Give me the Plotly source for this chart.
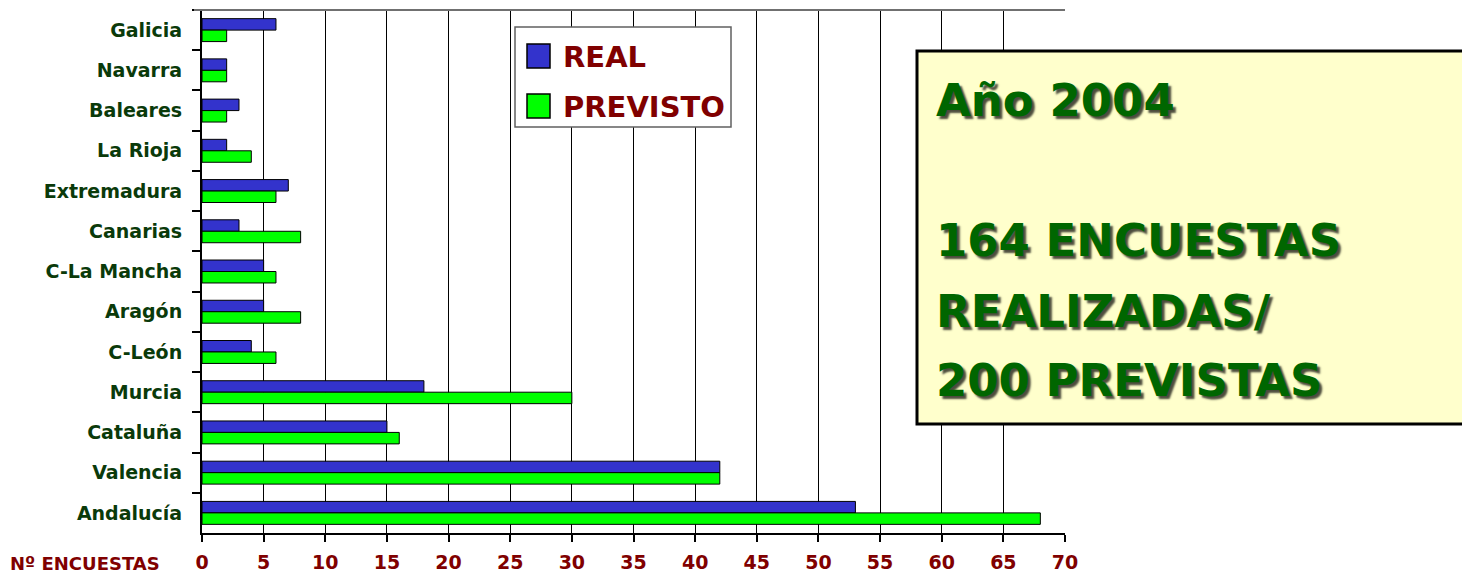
import plotly.graph_objects as go

regions = ["Galicia", "Navarra", "Baleares", "La Rioja", "Extremadura", "Canarias",
           "C-La Mancha", "Aragón", "C-León", "Murcia", "Cataluña", "Valencia", "Andalucía"]
real = [6, 2, 3, 2, 7, 3, 5, 5, 4, 18, 15, 42, 53]
previsto = [2, 2, 2, 4, 6, 8, 6, 8, 6, 30, 16, 42, 68]
x_ticks = list(range(0, 75, 5))
series_names = ["REAL", "PREVISTO"]
series_colors = ["#3333CC", "#00FF00"]
box_lines = ["Año 2004", "164 ENCUESTAS", "REALIZADAS/", "200 PREVISTAS"]
x_title = "Nº ENCUESTAS"

W, H = 1470, 575
OFF = 8  # page body margin
# plot area in page pixels
L, R, T, B = 202, 1065, 10, 533
FONT = "DejaVu Sans"


def px(x):
    return (x - L) / (R - L)


def py(y):
    return (B - y) / (B - T)


fig = go.Figure()
for name, vals, col in zip(series_names, [real, previsto], series_colors):
    fig.add_trace(go.Bar(
        y=regions, x=vals, name=name, orientation="h",
        marker=dict(color=col, line=dict(color="#000000", width=1)),
        showlegend=False,
    ))

shapes = []
annotations = []

# top border line
shapes.append(dict(type="line", xref="paper", yref="paper", x0=px(194), x1=px(1065),
                   y0=py(10), y1=py(10), line=dict(color="#707070", width=2)))

# manual legend
shapes.append(dict(type="rect", xref="paper", yref="paper", x0=px(515), x1=px(731),
                   y0=py(27), y1=py(127), fillcolor="white",
                   line=dict(color="#606060", width=1.5), layer="above"))
for i, (name, col) in enumerate(zip(series_names, series_colors)):
    yc = 56 + i * 50
    shapes.append(dict(type="rect", xref="paper", yref="paper", x0=px(527), x1=px(550),
                       y0=py(yc - 12), y1=py(yc + 12), fillcolor=col,
                       line=dict(color="#000000", width=1.5), layer="above"))
    annotations.append(dict(xref="paper", yref="paper", x=px(561), y=py(yc + 1),
                            xanchor="left", yanchor="middle", showarrow=False,
                            text="<b>%s</b>" % name,
                            font=dict(family=FONT, size=29, color="#800000")))

# info box
shapes.append(dict(type="rect", xref="paper", yref="paper", x0=px(917), x1=px(1490),
                   y0=py(424), y1=py(51), fillcolor="#FFFFCC",
                   line=dict(color="#000000", width=3), layer="above"))
line_y = [100, 241, 311, 381]
for txt, yc in zip(box_lines, line_y):
    annotations.append(dict(xref="paper", yref="paper", x=px(934), y=py(yc),
                            xanchor="left", yanchor="middle", showarrow=False,
                            text="<b>%s</b>" % txt,
                            font=dict(family=FONT, size=45, color="#006600",
                                      shadow="3px 3px 2px rgba(0,0,0,0.7)")))

# x axis title at left
annotations.append(dict(xref="paper", yref="paper", x=px(8), y=py(563),
                        xanchor="left", yanchor="middle", showarrow=False,
                        text="<b>%s</b>" % x_title,
                        font=dict(family=FONT, size=18, color="#800000")))

fig.update_layout(
    width=W, height=H,
    margin=dict(l=L - OFF, r=W - (R - OFF), t=T - OFF, b=H - (B - OFF), pad=0,
                autoexpand=False),
    paper_bgcolor="white", plot_bgcolor="white",
    barmode="group", bargap=0.43, bargroupgap=0,
    shapes=shapes, annotations=annotations,
    xaxis=dict(range=[0, 70], tickvals=x_ticks, ticktext=[str(v) for v in x_ticks],
               showgrid=True, gridcolor="#000000", gridwidth=1,
               showline=True, linecolor="#000000", linewidth=2,
               ticks="outside", ticklen=7, tickcolor="#000000", tickwidth=1.5,
               ticklabelstandoff=4, zeroline=False, automargin=False,
               tickfont=dict(family=FONT, size=19, color="#800000", weight="bold")),
    yaxis=dict(categoryorder="array", categoryarray=regions, autorange="reversed",
               showgrid=False, showline=True, linecolor="#000000", linewidth=2,
               ticks="outside", ticklen=8, tickcolor="#000000", tickwidth=1.5,
               tickson="boundaries", ticklabelstandoff=14, automargin=False,
               tickfont=dict(family=FONT, size=19, color="#0A3A0A", weight="bold")),
)

fig.write_html("out.html")
